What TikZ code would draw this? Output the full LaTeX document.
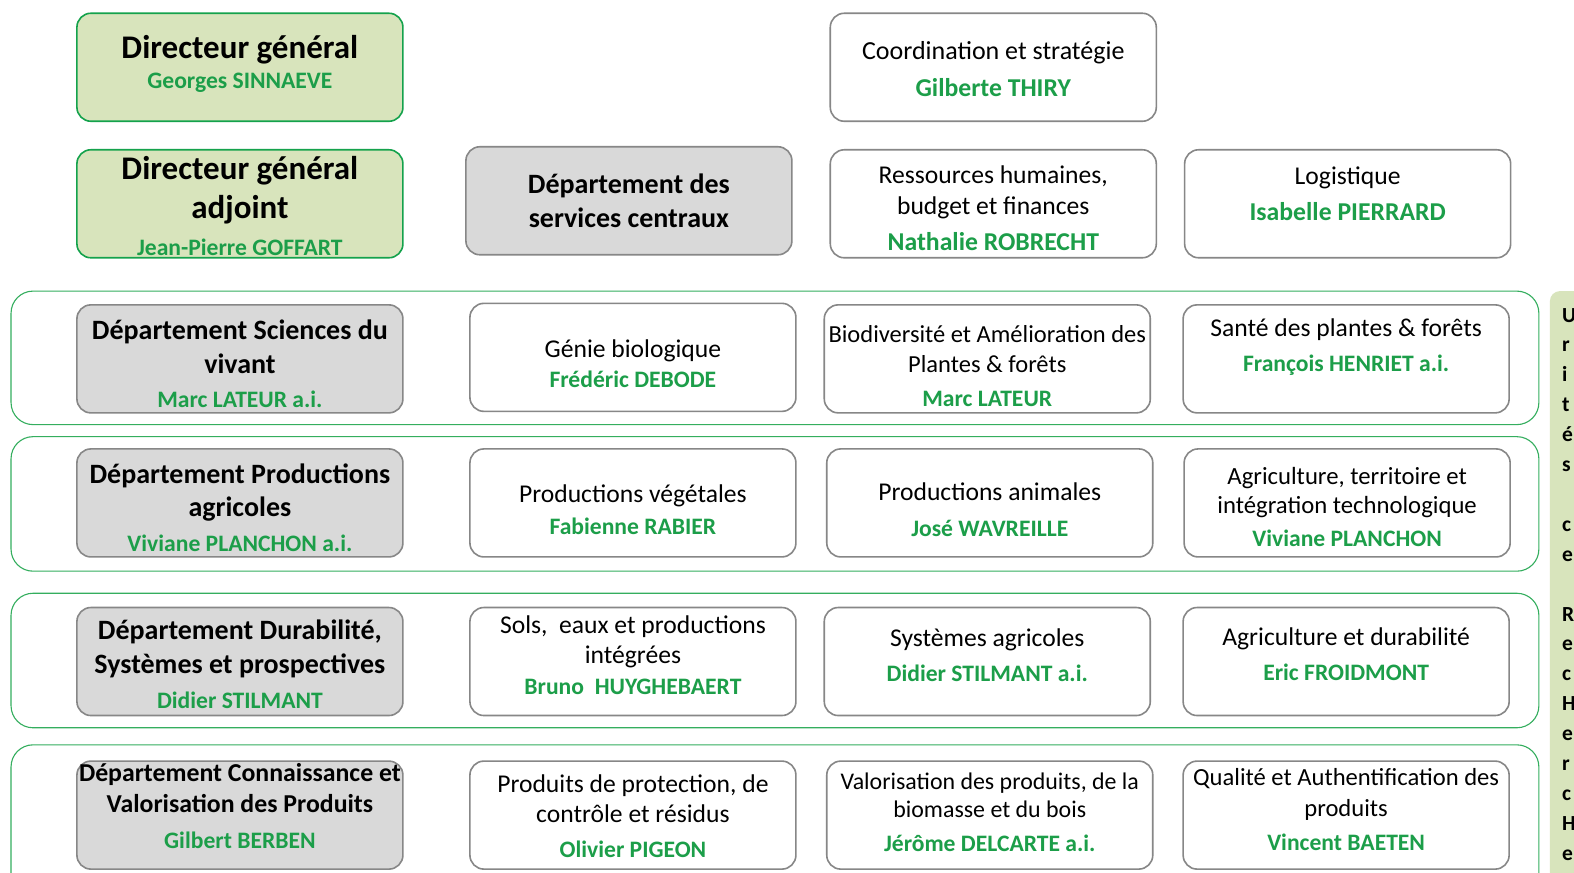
\documentclass[tikz,border=0pt]{standalone}
\usepackage{fontspec}
\setmainfont{Carlito}
\usetikzlibrary{positioning}

\definecolor{dirfill}{HTML}{D8E4BC}
\definecolor{dirgreen}{HTML}{14A24C}
\definecolor{bandgreen}{HTML}{34AE5E}
\definecolor{namegreen}{HTML}{1C9E49}
\definecolor{boxgray}{HTML}{878787}
\definecolor{deptgray}{HTML}{D9D9D9}

\tikzset{
  box/.style={draw=boxgray, line width=1.6pt, rounded corners=14pt,
    minimum width=326pt, minimum height=108pt, align=center, inner sep=0pt,
    font=\fontsize{25.6}{30.5}\selectfont},
  dirbox/.style={box, draw=dirgreen, fill=dirfill, font=\bfseries\fontsize{33}{39}\selectfont},
  deptbox/.style={box, fill=deptgray, font=\bfseries\fontsize{28}{34}\selectfont},
  band/.style={draw=bandgreen, line width=1.1pt, rounded corners=22pt},
  % place the last line's baseline #1/2 below the centre
  textdrop/.style={text depth=0pt, text height=#1},
}
\newcommand{\who}[2][23.6]{{\bfseries\color{namegreen}\fontsize{#1}{#1}\selectfont #2}}

\begin{document}
\begin{tikzpicture}[x=1.0038pt, y=-1.0038pt]
\useasboundingbox (0,0) rectangle (1568,869);
\clip (0,0) rectangle (1568,869);
\fill[white] (0,0) rectangle (1568,869);

% bandes des departements
\draw[band] (11,290) rectangle (1533,423);
\draw[band] (11,435) rectangle (1533,569);
\draw[band] (11,591) rectangle (1533,725);
\draw[band] (11,742) rectangle (1533,910);

% direction
\node[dirbox, textdrop=42.6pt] (dg) at (239,67) {Directeur général\\[-9pt] \who{Georges SINNAEVE}};
\node[dirbox, textdrop=103.4pt] (dga) at (239,203) {Directeur général\\ adjoint\\[-2pt] \who{Jean-Pierre GOFFART}};
\node[box, textdrop=58.6pt, font=\fontsize{26}{30.5}\selectfont] (coord) at (989.5,67) {Coordination et stratégie\\[6.7pt] \who[25.7]{Gilberte THIRY}};

% services centraux
\node[deptbox, textdrop=54.4pt] (dsc) at (626.5,200) {Département des\\ services centraux};
\node[box, textdrop=93.4pt] (rh) at (989.5,203) {Ressources humaines,\\ budget et finances\\[5.7pt] \who[25.7]{Nathalie ROBRECHT}};
\node[box, textdrop=33.4pt] (logi) at (1342.5,203) {Logistique\\[5.7pt] \who[25.7]{Isabelle PIERRARD}};

% sciences du vivant
\node[deptbox, textdrop=97.2pt] (dsv) at (239,357.5) {Département Sciences du\\ vivant\\[0pt] \who{Marc LATEUR a.i.}};
\node[box, textdrop=61pt] (genie) at (630.5,356) {Génie biologique\\[0.2pt] \who{Frédéric DEBODE}};
\node[box, textdrop=95.2pt, font=\fontsize{24.5}{30}\selectfont] (biodiv) at (983.5,357.5) {Biodiversité et Amélioration des\\ Plantes \& forêts\\[3.9pt] \who{Marc LATEUR}};
\node[box, textdrop=26pt] (sante) at (1341,357.5) {Santé des plantes \& forêts\\[5.2pt] \who{François HENRIET a.i.}};

% productions agricoles
\node[deptbox, textdrop=97.2pt, font=\bfseries\fontsize{28}{33}\selectfont] (dpa) at (239,501) {Département Productions\\ agricoles\\[2pt] \who{Viviane PLANCHON a.i.}};
\node[box, textdrop=63pt] (pveg) at (630.5,501) {Productions végétales\\[1.2pt] \who{Fabienne RABIER}};
\node[box, textdrop=67pt] (panim) at (986,501) {Productions animales\\[5.2pt] \who{José WAVREILLE}};
\node[box, textdrop=88pt, font=\fontsize{24.7}{29}\selectfont] (agter) at (1342,501) {Agriculture, territoire et\\ intégration technologique\\[4.9pt] \who{Viviane PLANCHON}};

% durabilite
\node[deptbox, textdrop=94pt, font=\bfseries\fontsize{28}{33.5}\selectfont] (ddur) at (239,659) {Département Durabilité,\\ Systèmes et prospectives\\[2pt] \who{Didier STILMANT}};
\node[box, textdrop=66pt] (sols) at (630.5,659) {Sols,\ \ eaux et productions\\ intégrées\\[0.2pt] \who{Bruno\ \ HUYGHEBAERT}};
\node[box, textdrop=40pt] (sysagr) at (983.5,659) {Systèmes agricoles\\[4.2pt] \who{Didier STILMANT a.i.}};
\node[box, textdrop=38pt] (agdur) at (1341,659) {Agriculture et durabilité\\[4.2pt] \who{Eric FROIDMONT}};

% connaissance et valorisation
\node[deptbox, textdrop=66pt, font=\bfseries\fontsize{25.8}{31}\selectfont] (dcvp) at (239,812) {Département Connaissance et\\ Valorisation des Produits\\[4.5pt] \who{Gilbert BERBEN}};
\node[box, textdrop=85pt] (ppc) at (630.5,812) {Produits de protection, de\\ contrôle et résidus\\[4.2pt] \who{Olivier PIGEON}};
\node[box, textdrop=73pt, font=\fontsize{23.9}{28}\selectfont] (valo) at (986,812) {Valorisation des produits, de la\\ biomasse et du bois\\[6.1pt] \who{Jérôme DELCARTE a.i.}};
\node[box, textdrop=71pt, font=\fontsize{24.6}{31}\selectfont] (qual) at (1341,812) {Qualité et Authentification des\\ produits\\[2.9pt] \who{Vincent BAETEN}};

% encadre de droite (coupe)
\fill[dirfill, rounded corners=10pt] (1544,290) rectangle (1620,910);
\node[anchor=base west, align=left, inner sep=0pt,
  font=\bfseries\fontsize{21.5}{29.9}\selectfont] (note) at (1556,857)
  {U\\ r\\ i\\ t\\ é\\ s\\ \strut\\ c\\ e\\ \strut\\ R\\ e\\ c\\ H\\ e\\ r\\ c\\ H\\ e};
\end{tikzpicture}
\end{document}
